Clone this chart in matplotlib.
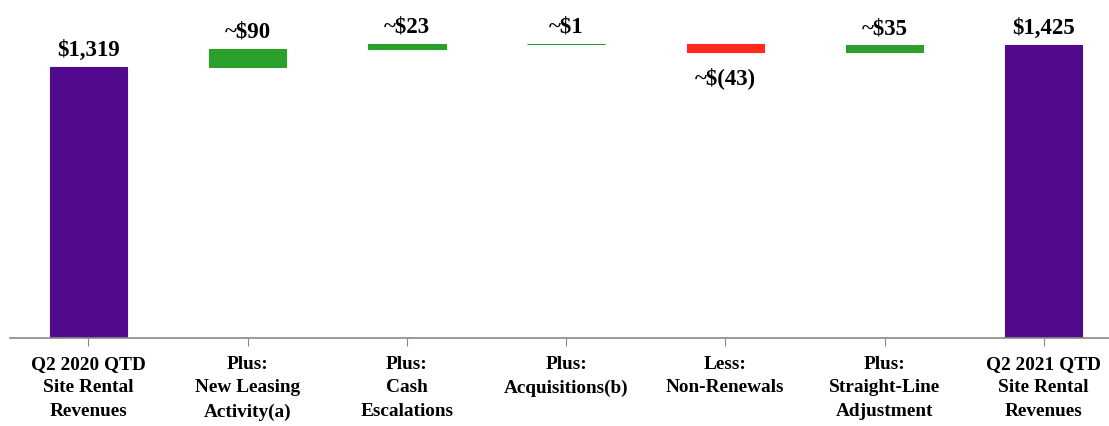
import matplotlib
matplotlib.use('Agg')
from matplotlib import pyplot as plt

# 数据
categories = ['Q2 2020 QTD\nSite Rental\nRevenues', 'Plus:\nNew Leasing\nActivity(a)',
              'Plus:\nCash\nEscalations', 'Plus:\nAcquisitions(b)', 'Less:\nNon-Renewals',
              'Plus:\nStraight-Line\nAdjustment', 'Q2 2021 QTD\nSite Rental\nRevenues']
values = [1319, 90, 23, 1, -43, 35, 1425]
labels = ['$1,319', '~$90', '~$23', '~$1', '~$(43)', '~$35', '$1,425']

purple = '#520b8f'
green = '#2ca02c'
red = '#ff2a1a'

plt.rcParams['font.family'] = ['Liberation Serif', 'DejaVu Serif']

fig = plt.figure(figsize=(11.09, 4.27), dpi=100)
ax = fig.add_axes([10 / 1109, 88 / 427, 1 - 10 / 1109, 1 - 88 / 427])

running = 0
for i, v in enumerate(values):
    if i == 0 or i == len(values) - 1:
        bottom, height, color = 0, v, purple
        running = v
    else:
        bottom = running if v >= 0 else running + v
        height = abs(v)
        color = green if v >= 0 else red
        running += v
    ax.bar(i, height, bottom=bottom, width=0.485, color=color,
           edgecolor=color, linewidth=0.8)
    if v >= 0:
        ax.annotate(labels[i], (i, bottom + height), xytext=(0, 5),
                    textcoords='offset points', ha='center', va='bottom',
                    fontsize=16.5, fontweight='bold')
    else:
        ax.annotate(labels[i], (i, bottom), xytext=(0, -9.5),
                    textcoords='offset points', ha='center', va='top',
                    fontsize=16.5, fontweight='bold')

ax.set_xlim(-0.493, 6.41)
ax.set_ylim(0, 1650)
ax.set_xticks(range(len(categories)))
ax.set_xticklabels(categories, fontsize=13.9, fontweight='bold', linespacing=1.52)
ax.tick_params(axis='x', length=6, color='#888888', pad=6)
ax.set_yticks([])
for s in ['top', 'right', 'left']:
    ax.spines[s].set_visible(False)
ax.spines['bottom'].set_color('#888888')
ax.spines['bottom'].set_linewidth(1.2)

plt.savefig('out.png', dpi=100)
